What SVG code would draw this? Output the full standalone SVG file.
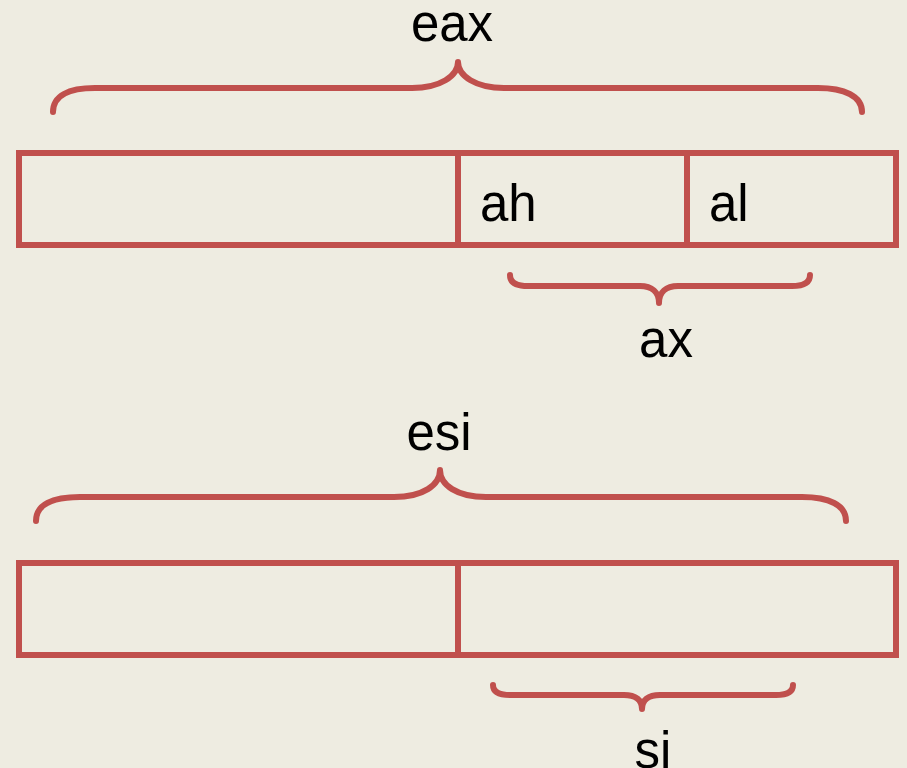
<svg xmlns="http://www.w3.org/2000/svg" width="907" height="768" viewBox="0 0 907 768">
<style>
.box{fill:none;stroke:#C0504D;stroke-width:6}
.div{stroke:#C0504D;stroke-width:6}
.brace{fill:none;stroke:#C0504D;stroke-width:6;stroke-linecap:round;stroke-linejoin:round}
.t{font-family:"Liberation Sans",Arial,sans-serif;font-size:51px;fill:#000}
</style>
<rect width="907" height="768" fill="#EEECE1"/>
<g id="reg-eax">
<rect class="box" x="19" y="153" width="877" height="92"/>
<line class="div" x1="458" y1="153" x2="458" y2="245"/>
<line class="div" x1="687" y1="153" x2="687" y2="245"/>
<text class="t" x="480" y="221">ah</text>
<text class="t" x="709" y="221">al</text>
</g>
<g id="reg-esi">
<rect class="box" x="19" y="563" width="877" height="92"/>
<line class="div" x1="458" y1="563" x2="458" y2="655"/>
</g>
<g id="braces">
<path class="brace" d="M53,112 C53,96 68,88 95,88 L412,88 C440,88 458,76 458,62 C458,76 476,88 504,88 L818,88 C844,88 862,96 862,112"/>
<path class="brace" d="M510,275 C510,282 516,286 528,286 L640,286 C652,286 659,292 659,303 C659,292 666,286 678,286 L792,286 C804,286 810,282 810,275"/>
<path class="brace" d="M36,521 C36,505 52,497 80,497 L394,497 C423,497 440,485 440,470 C440,485 457,497 486,497 L802,497 C829,497 846,505 846,521"/>
<path class="brace" d="M493,685 C493,691 498,695 510,695 L624,695 C636,695 642,700 642,709 C642,700 648,695 660,695 L776,695 C788,695 793,691 793,685"/>
</g>
<g id="labels">
<text class="t" x="452" y="41" text-anchor="middle">eax</text>
<text class="t" x="666" y="357" text-anchor="middle">ax</text>
<text class="t" x="439" y="450" text-anchor="middle">esi</text>
<text class="t" x="653" y="768" text-anchor="middle">si</text>
</g>
</svg>
